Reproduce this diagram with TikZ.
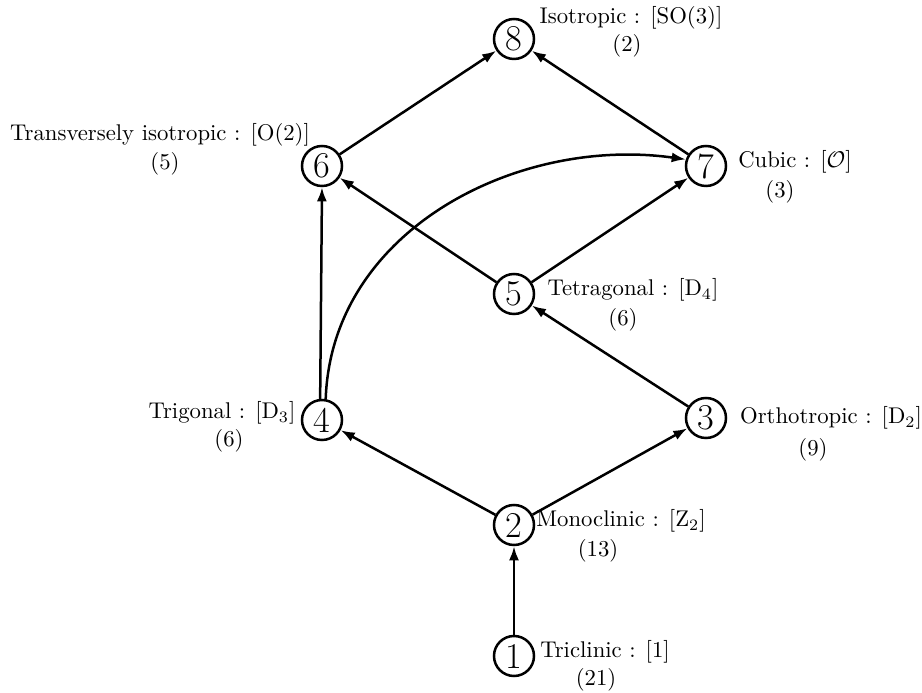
\documentclass[tikz,border=0pt]{standalone}
\usepackage{amsmath}
\usetikzlibrary{arrows.meta}
\tikzset{
  sym class/.style={circle, draw, line width=1.1pt, minimum size=17.6pt, inner sep=0pt,
                    font=\fontsize{16}{16}\selectfont},
  sym name/.style={font=\normalsize, inner sep=0pt},
  sym arr/.style={-{Latex[length=6.2pt, width=4.4pt]}, line width=1.1pt},
}
\begin{document}
\begin{tikzpicture}[x=0.44pt, y=-0.44pt]
  \useasboundingbox (0,0) rectangle (922,693);
  % symmetry classes
  \node[sym class] (c1) at (514,656) {1};
  \node[sym class] (c2) at (514,525) {2};
  \node[sym class] (c3) at (706,418) {3};
  \node[sym class] (c4) at (322,420) {4};
  \node[sym class] (c5) at (514,294) {5};
  \node[sym class] (c6) at (322,166) {6};
  \node[sym class] (c7) at (706,166) {7};
  \node[sym class] (c8) at (514,39)  {8};
  % names and counts
  \node[sym name] (t1) at (605,652) {Triclinic : [1]};
  \node[sym name] (n1) at (596,680) {(21)};
  \node[sym name] (t2) at (621,521) {Monoclinic : [Z$_2$]};
  \node[sym name] (n2) at (598,551) {(13)};
  \node[sym name] (t3) at (831,418) {Orthotropic : [D$_2$]};
  \node[sym name] (n3) at (813,450) {(9)};
  \node[sym name] (t4) at (222,413) {Trigonal : [D$_3$]};
  \node[sym name] (n4) at (229,441) {(6)};
  \node[sym name] (t5) at (633,290) {Tetragonal : [D$_4$]};
  \node[sym name] (n5) at (623,320) {(6)};
  \node[sym name] (t6) at (160,135) {Transversely isotropic : [O(2)]};
  \node[sym name] (n6) at (165,164) {(5)};
  \node[sym name] (t7) at (795,162) {Cubic : [$\mathcal{O}$]};
  \node[sym name] (n7) at (780,192) {(3)};
  \node[sym name] (t8) at (631,18)  {Isotropic : [SO(3)]};
  \node[sym name] (n8) at (627,46)  {(2)};
  % inclusions
  \draw[sym arr] (c1) -- (c2);
  \draw[sym arr] (c2) -- (c4);
  \draw[sym arr] (c2) -- (c3);
  \draw[sym arr] (c3) -- (c5);
  \draw[sym arr] (c4.95) -- (c6.south);
  \draw[sym arr] (c5) -- (c6);
  \draw[sym arr] (c5) -- (c7);
  \draw[sym arr] (c6) -- (c8);
  \draw[sym arr] (c7) -- (c8);
  \draw[sym arr] (c4.80) to[out=88, in=172] (c7.162);
\end{tikzpicture}
\end{document}
